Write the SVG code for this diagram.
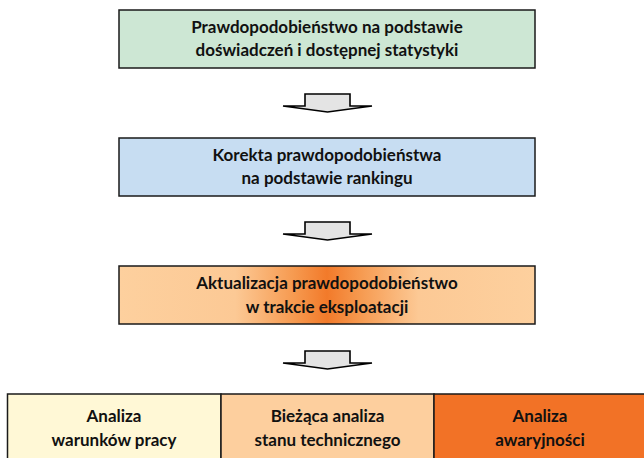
<svg xmlns="http://www.w3.org/2000/svg" width="644" height="458" viewBox="0 0 644 458">
  <defs>
    <linearGradient id="glow" x1="0" y1="0" x2="1" y2="0">
      <stop offset="0" stop-color="#FDD09E"/>
      <stop offset="0.28" stop-color="#FCC995"/>
      <stop offset="0.42" stop-color="#F69A50"/>
      <stop offset="0.5" stop-color="#F27A2A"/>
      <stop offset="0.58" stop-color="#F69A50"/>
      <stop offset="0.72" stop-color="#FCC995"/>
      <stop offset="1" stop-color="#FDD09E"/>
    </linearGradient>
    <path id="down" d="M305,0 H350 V12 H372 L327.5,18 L283,12 H305 Z"/>
  </defs>
  <style>
    .box { stroke: #1a1a1a; stroke-width: 1.5; }
    .arrow { fill: #E4E4E4; stroke: #000; stroke-width: 1.6; stroke-linejoin: miter; }
    text { font-family: Lato, "Liberation Sans", sans-serif; font-weight: bold; font-size: 17px; fill: #111; text-anchor: middle; }
  </style>

  <g id="connectors">
    <use href="#down" class="arrow" transform="translate(0,94)"/>
    <use href="#down" class="arrow" transform="translate(0,222)"/>
    <use href="#down" class="arrow" transform="translate(0,351)"/>
  </g>

  <g id="node-statystyka">
    <rect class="box" x="119" y="10" width="416" height="58" fill="#CDE7D4"/>
    <text x="327" y="33">Prawdopodobieństwo na podstawie</text>
    <text x="327" y="56">doświadczeń i dostępnej statystyki</text>
  </g>

  <g id="node-korekta">
    <rect class="box" x="119" y="138" width="416" height="58" fill="#C7DDF2"/>
    <text x="327" y="161">Korekta prawdopodobieństwa</text>
    <text x="327" y="184">na podstawie rankingu</text>
  </g>

  <g id="node-aktualizacja">
    <rect class="box" x="119" y="266" width="416" height="58" fill="url(#glow)"/>
    <text x="327" y="289">Aktualizacja prawdopodobieństwo</text>
    <text x="327" y="313">w trakcie eksploatacji</text>
  </g>

  <g id="node-warunki">
    <rect class="box" x="7.5" y="394" width="213.5" height="70" fill="#FFF8D6"/>
    <text x="114" y="422">Analiza</text>
    <text x="114" y="446">warunków pracy</text>
  </g>

  <g id="node-stan">
    <rect class="box" x="221" y="394" width="213" height="70" fill="#FDCF9E"/>
    <text x="327.5" y="422">Bieżąca analiza</text>
    <text x="327.5" y="446">stanu technicznego</text>
  </g>

  <g id="node-awaryjnosc">
    <rect class="box" x="434" y="394" width="214" height="70" fill="#F27226"/>
    <text x="540" y="422">Analiza</text>
    <text x="540" y="446">awaryjności</text>
  </g>
</svg>
